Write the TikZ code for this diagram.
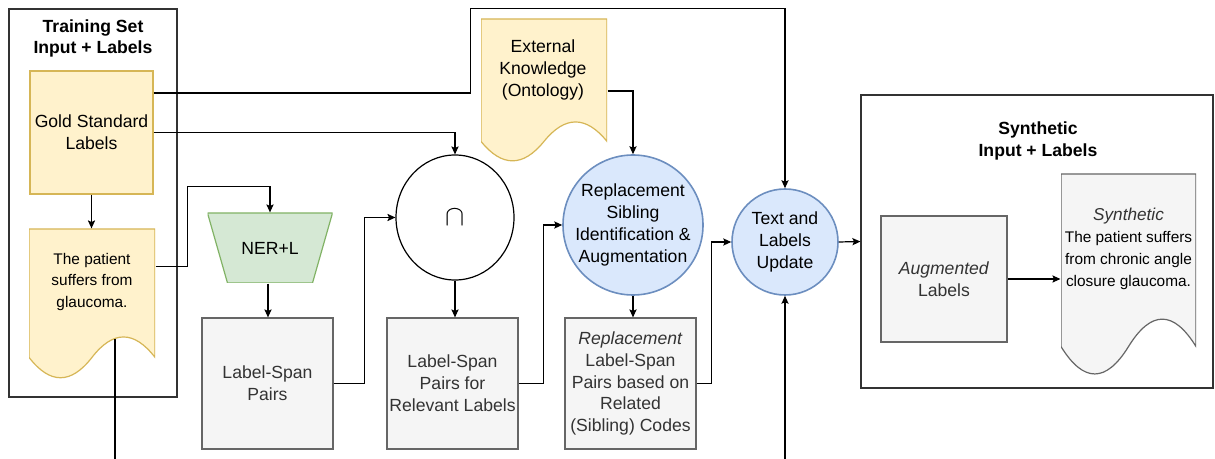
\documentclass[tikz,border=0pt]{standalone}
\usepackage{fontspec}
\setmainfont{Liberation Sans}
\usetikzlibrary{arrows.meta,shapes.geometric,positioning,calc}

\definecolor{yelfill}{HTML}{FFF2CC}
\definecolor{yeldraw}{HTML}{D6B656}
\definecolor{grnfill}{HTML}{D5E8D4}
\definecolor{grndraw}{HTML}{82B366}
\definecolor{blufill}{HTML}{DAE8FC}
\definecolor{bludraw}{HTML}{6C8EBF}
\definecolor{gryfill}{HTML}{F5F5F5}
\definecolor{grydraw}{HTML}{666666}
\definecolor{grytext}{HTML}{333333}

\tikzset{
	txt/.style={font=\fontsize{8.8}{10.9}\selectfont, align=center, inner sep=0.5pt},
	smalltxt/.style={font=\fontsize{7.7}{10.9}\selectfont, align=center, inner sep=0.5pt},
	title/.style={font=\fontsize{8.8}{10.6}\selectfont\bfseries, align=center, inner sep=0.5pt},
	frame/.style={draw=black!80, inner sep=0pt},
	yelbox/.style={txt, draw=yeldraw, fill=yelfill},
	grybox/.style={txt, draw=grydraw, fill=gryfill, text=grytext},
	blucircle/.style={txt, circle, draw=bludraw, fill=blufill, line width=0.8pt},
	trapez/.style={txt, fill=white, path picture={
		\filldraw[#1] (path picture bounding box.north west) -- (path picture bounding box.north east)
			-- ($(path picture bounding box.south east)!0.16!(path picture bounding box.south west)$)
			-- ($(path picture bounding box.south west)!0.16!(path picture bounding box.south east)$) -- cycle;
	}},
	document/.style={inner sep=0pt, fill=white, path picture={
		\filldraw[#1] let \p1=(path picture bounding box.north west),
			\p2=(path picture bounding box.south east), \n1={\y1-\y2}, \n2={\x2-\x1} in
			(\x1,\y1) -- (\x2,\y1) -- ({\x2},{\y2+0.15*\n1})
			.. controls ({\x1+5/6*\n2},{\y2+0.33*\n1}) and ({\x1+2/3*\n2},{\y2+0.33*\n1}) .. ({\x1+0.5*\n2},{\y2+0.15*\n1})
			.. controls ({\x1+1/3*\n2},{\y2-0.03*\n1}) and ({\x1+1/6*\n2},{\y2-0.03*\n1}) .. ({\x1},{\y2+0.15*\n1}) -- cycle;
	}}
}

\begin{document}
\begin{tikzpicture}[x=0.5pt, y=-0.5pt, line width=0.6pt, >={Stealth[length=4pt,width=3.6pt,inset=0.8pt]}]
	\useasboundingbox (0,0) rectangle (1215,459);

	% the two data sets
	\node (train) [frame, minimum width=84pt, minimum height=194pt] at (93,203) {};
	\node (traintitle) [title] at (93,38.5) {Training Set\\Input + Labels};
	\node (synth) [frame, minimum width=176pt, minimum height=146.5pt] at (1037,241.5) {};
	\node (synthtitle) [title] at (1038,141) {Synthetic\\Input + Labels};

	\node (gold) [yelbox, minimum width=61.5pt, minimum height=61.5pt] at (91.5,132.5) {Gold Standard\\Labels};
	\node (pdoc) [document={fill=yelfill,draw=yeldraw}, minimum width=63pt, minimum height=75.5pt] at (92,304.5) {};
	\node (ptext) [smalltxt] at (92,282) {The patient\\suffers from\\glaucoma.};

	% pipeline
	\node (ext) [document={fill=yelfill,draw=yeldraw}, minimum width=63pt, minimum height=72pt] at (544,91) {};
	\node (etext) [txt] at (543,70) {External\\Knowledge\\(Ontology)};
	\node (ner) [trapez={fill=grnfill,draw=grndraw}, minimum width=62.5pt, minimum height=35pt] at (270,248) {NER+L};
	\node (lsp) [grybox, minimum width=65.5pt, minimum height=65.5pt] at (267.5,383.5) {Label-Span\\Pairs};
	\node (cap) [ellipse, draw, minimum width=59pt, minimum height=62.5pt, inner sep=0pt] at (455,217.5) {\fontsize{14}{14}\selectfont$\cap$};
	\node (lspr) [grybox, minimum width=65.5pt, minimum height=65.5pt] at (452.5,383.5) {Label-Span\\Pairs for\\Relevant Labels};
	\node (repl) [blucircle, minimum size=70pt, inner sep=-1pt] at (633,225) {Replacement\\Sibling\\Identification \&\\Augmentation};
	\node (rlsp) [grybox, minimum width=65.5pt, minimum height=65.5pt] at (630.5,383.5) {\textit{Replacement}\\Label-Span\\Pairs based on\\Related\\(Sibling) Codes};
	\node (tlu) [blucircle, minimum size=53pt] at (785,242) {Text and\\Labels\\Update};

	% output
	\node (aug) [grybox, minimum width=63pt, minimum height=63pt] at (944,279) {\textit{Augmented}\\Labels};
	\node (sdoc) [document={fill=gryfill,draw=grydraw}, minimum width=67.5pt, minimum height=101.5pt] at (1128.5,275.5) {};
	\node (stext) [smalltxt] at (1128.5,249) {{\fontsize{8.6}{10.9}\selectfont\itshape\color{grytext}Synthetic}\\The patient suffers\\from chronic angle\\closure glaucoma.};

	\coordinate (pout) at (115,459);
	\coordinate (tin) at (785,459);

	\draw[->] (gold.south) -- (gold.south |- pdoc.north);
	\draw[->] ([yshift=19pt]pdoc.east) -- ++(32,0) |- ([yshift=13pt]ner.north) -- (ner.north);
	\draw[->] ([yshift=19.75pt]gold.east) -- ++(317,0) |- ([yshift=90pt]tlu.north) -- (tlu.north);
	\draw[->] (gold.east) -| (cap.north);
	\draw[->] ([xshift=-1pt]ner.south) -- ([xshift=-1pt]ner.south |- lsp.north);
	\draw[->] (lsp.east) -- ++(31,0) |- (cap.west);
	\draw[->] (cap.south) -- (cap.south |- lspr.north);
	\draw[->] (lspr.east) -- ++(25,0) |- (repl.west);
	\draw[->] (ext.east) -| (repl.north);
	\draw[->] (repl.south) -- (repl.south |- rlsp.north);
	\draw[->] (rlsp.east) -- ++(15,0) |- (tlu.west);
	\draw[->] (tlu.east) -- (synth.west);
	\draw[->] (aug.east) -- (aug.east -| sdoc.west);
	\draw ([shift={(23,34.5)}]pdoc.center) -- (pout);
	\draw[->] (tin) -- (tlu.south);
\end{tikzpicture}
\end{document}
